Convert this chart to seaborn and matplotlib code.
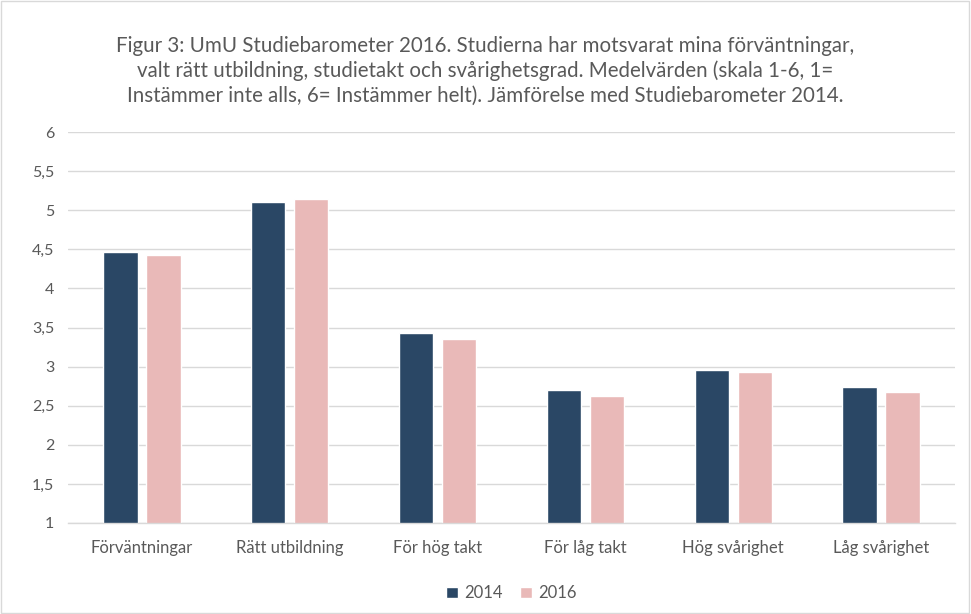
import pandas as pd
import numpy as np
import matplotlib.pyplot as plt
import seaborn as sns

# ==========================================================
# DATA
# ==========================================================

categories = [
    "Förväntningar",
    "Rätt utbildning",
    "För hög takt",
    "För låg takt",
    "Hög svårighet",
    "Låg svårighet"
]

years = ["2014", "2016"]

values_2014 = [4.46, 5.10, 3.43, 2.70, 2.96, 2.74]
values_2016 = [4.43, 5.14, 3.35, 2.63, 2.93, 2.68]

y_ticks = [1, 1.5, 2, 2.5, 3, 3.5, 4, 4.5, 5, 5.5, 6]

colors = ["#2a4765", "#e9b9b8"]

df = pd.DataFrame({
    "kategori": categories * 2,
    "ar": [years[0]] * len(categories) + [years[1]] * len(categories),
    "varde": values_2014 + values_2016
})

# ==========================================================
# PLOT
# ==========================================================

sns.set_style("white")
plt.rcParams["font.family"] = ["Lato", "DejaVu Sans"]

fig = plt.figure(figsize=(9.71, 6.14), dpi=100)
ax = fig.add_axes([68 / 971, 1 - 523 / 614, 887 / 971, 391 / 614])

sns.barplot(
    data=df,
    x="kategori",
    y="varde",
    hue="ar",
    palette=colors,
    width=0.58,
    gap=0.2,
    saturation=1,
    ax=ax
)

ax.set_ylim(1, 6)
ax.set_yticks(y_ticks)
ax.set_yticklabels([f"{t:g}".replace(".", ",") for t in y_ticks])
ax.yaxis.grid(True, color="#d9d9d9", linewidth=1)
ax.set_axisbelow(True)

for side in ["left", "right", "top"]:
    ax.spines[side].set_visible(False)
ax.spines["bottom"].set_color("#d9d9d9")
ax.spines["bottom"].set_linewidth(1)

ax.tick_params(axis="both", length=0, labelsize=11.5, colors="#595959", pad=10)
ax.tick_params(axis="x", labelsize=12, pad=12)
ax.set_xlabel("")
ax.set_ylabel("")

fig.text(
    0.5, 1 - 71 / 614,
    "Figur 3: UmU Studiebarometer 2016. Studierna har motsvarat mina förväntningar,\n"
    "valt rätt utbildning, studietakt och svårighetsgrad. Medelvärden (skala 1-6, 1=\n"
    "Instämmer inte alls, 6= Instämmer helt). Jämförelse med Studiebarometer 2014.",
    ha="center", va="center", fontsize=14.8, color="#595959", linespacing=1.3
)

ax.legend(
    loc="center",
    bbox_to_anchor=(0.5, -0.18),
    ncol=2,
    frameon=False,
    fontsize=12,
    labelcolor="#595959",
    handlelength=0.7,
    handleheight=0.7,
    handletextpad=0.4,
    columnspacing=1.0
)

fig.patches.append(plt.Rectangle(
    (0.001, 0.001), 0.997, 0.997, transform=fig.transFigure,
    fill=False, edgecolor="#d9d9d9", linewidth=1
))

plt.savefig("out.png", dpi=100)
plt.close()
